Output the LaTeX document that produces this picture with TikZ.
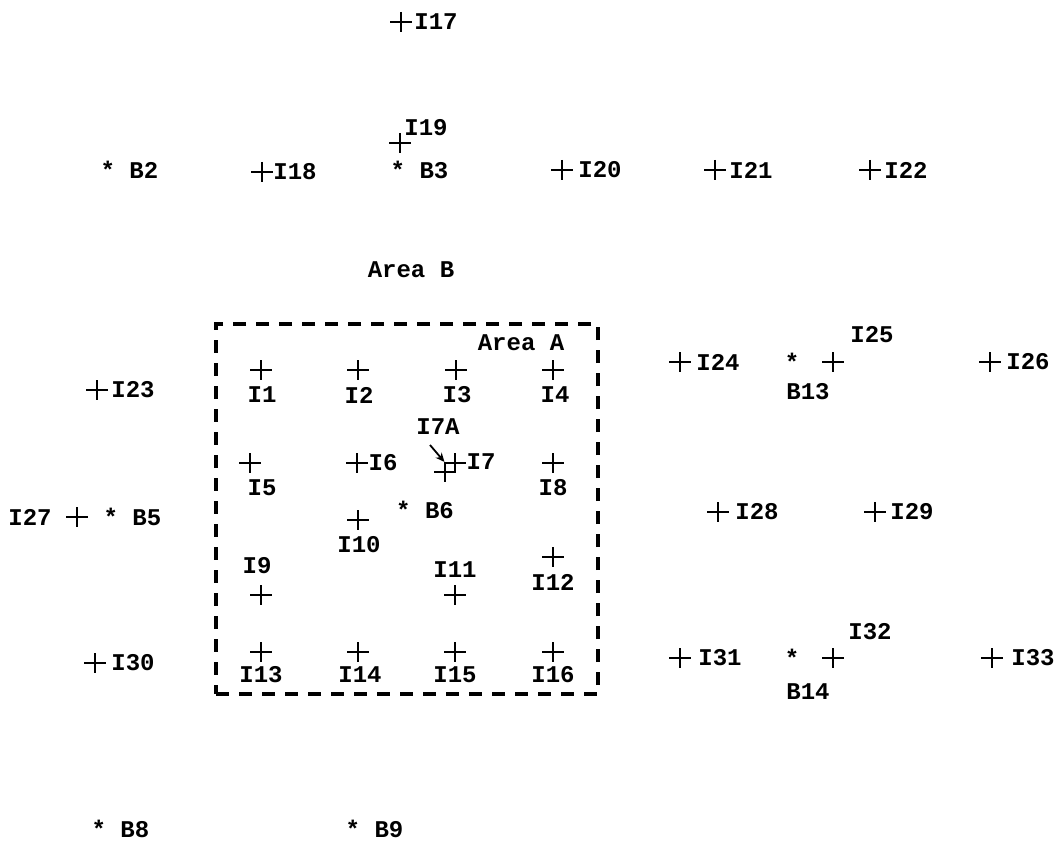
\documentclass[tikz,border=0pt]{standalone}
\usepackage{fontspec}
\setmonofont{Liberation Mono}
\usetikzlibrary{arrows.meta}
\begin{document}
\begin{tikzpicture}[x=1pt,y=-1pt,
  lbl/.style={font=\ttfamily\bfseries\fontsize{24}{24}\selectfont, inner sep=0pt, text=black},
  pt/.style={minimum width=22pt, minimum height=20pt, inner sep=0pt,
    path picture={\draw[line width=1.4pt]
      (path picture bounding box.west) -- (path picture bounding box.east)
      (path picture bounding box.north) -- (path picture bounding box.south);}},
  areabox/.style={draw, line width=3.8pt, dash pattern=on 13pt off 10pt},
  marker/.style={draw, line width=1.1pt, minimum size=10pt, inner sep=0pt},
  pointer/.style={line width=1.8pt, -{Stealth[length=9pt,width=8pt]}},
]
\useasboundingbox (0,0) rectangle (1059,845);

% area A boundary
\node[areabox, minimum width=382pt, minimum height=370pt, inner sep=0pt] (areaA) at (407,509) {};
\node[lbl] (lareaA) at (521,343) {Area A};
\node[lbl] (lareaB) at (411,270) {Area B};

% top rows
\node[pt] (i17) at (401,22) {};   \node[lbl] (l17) at (436,22) {I17};
\node[pt] (i19) at (400,143) {};  \node[lbl] (l19) at (426,128) {I19};
\node[lbl] (b2) at (129.5,170) {* B2};
\node[pt] (i18) at (262,172) {};  \node[lbl] (l18) at (295,172) {I18};
\node[lbl] (b3) at (419.5,170) {* B3};
\node[pt] (i20) at (562,170) {};  \node[lbl] (l20) at (600,170) {I20};
\node[pt] (i21) at (715,170) {};  \node[lbl] (l21) at (751,170) {I21};
\node[pt] (i22) at (870,170) {};  \node[lbl] (l22) at (906,170) {I22};

% inside area A
\node[pt] (i1) at (261,370) {};  \node[lbl] (l1) at (262,395) {I1};
\node[pt] (i2) at (358,370) {};  \node[lbl] (l2) at (359,395) {I2};
\node[pt] (i3) at (456,370) {};  \node[lbl] (l3) at (457,395) {I3};
\node[pt] (i4) at (553,370) {};  \node[lbl] (l4) at (555,395) {I4};
\node[pt] (i5) at (250,463) {};  \node[lbl] (l5) at (262,488) {I5};
\node[pt] (i6) at (357,463) {};  \node[lbl] (l6) at (383,463) {I6};
\node[pt] (i7) at (455,463) {};  \node[lbl] (l7) at (481,462) {I7};
\node[pt] (i7a) at (445,472) {};
\node[marker] (sq) at (450,467.5) {};
\node[lbl] (l7a) at (438,427) {I7A};
\coordinate (a7s) at (430,445);
\draw[pointer] (a7s) -- (sq.north west);
\node[pt] (i8) at (553,463) {};  \node[lbl] (l8) at (553,488) {I8};
\node[lbl] (b6) at (425,510) {* B6};
\node[pt] (i10) at (358,520) {}; \node[lbl] (l10) at (359,545) {I10};
\node[lbl] (l9) at (257,566) {I9}; \node[pt] (i9) at (261,595) {};
\node[lbl] (l11) at (455,570) {I11}; \node[pt] (i11) at (455,595) {};
\node[pt] (i12) at (553,557) {}; \node[lbl] (l12) at (553,582) {I12};
\node[pt] (i13) at (261,652) {}; \node[lbl] (l13) at (261,675) {I13};
\node[pt] (i14) at (358,652) {}; \node[lbl] (l14) at (360,675) {I14};
\node[pt] (i15) at (455,652) {}; \node[lbl] (l15) at (455,675) {I15};
\node[pt] (i16) at (553,652) {}; \node[lbl] (l16) at (553,675) {I16};

% left side
\node[pt] (i23) at (97,390) {};  \node[lbl] (l23) at (133,390) {I23};
\node[lbl] (l27) at (30,517) {I27}; \node[pt] (i27) at (77,517) {};
\node[lbl] (b5) at (132.5,517) {* B5};
\node[pt] (i30) at (95,663) {};  \node[lbl] (l30) at (133,663) {I30};

% right side
\node[pt] (i24) at (680,362) {};  \node[lbl] (l24) at (718,362) {I24};
\node[lbl] (s13) at (792,362) {*};
\node[lbl] (b13) at (808,392) {B13};
\node[pt] (i25) at (833,362) {};  \node[lbl] (l25) at (872,335) {I25};
\node[pt] (i26) at (990,362) {};  \node[lbl] (l26) at (1028,362) {I26};
\node[pt] (i28) at (718,512) {};  \node[lbl] (l28) at (757,512) {I28};
\node[pt] (i29) at (875,512) {};  \node[lbl] (l29) at (912,512) {I29};
\node[pt] (i31) at (680,658) {};  \node[lbl] (l31) at (720,658) {I31};
\node[lbl] (s14) at (792,658) {*};
\node[lbl] (b14) at (808,692) {B14};
\node[pt] (i32) at (833,658) {};  \node[lbl] (l32) at (870,632) {I32};
\node[pt] (i33) at (992,658) {};  \node[lbl] (l33) at (1033,658) {I33};

% bottom
\node[lbl] (b8) at (120.5,829) {* B8};
\node[lbl] (b9) at (374.5,829) {* B9};
\end{tikzpicture}
\end{document}
